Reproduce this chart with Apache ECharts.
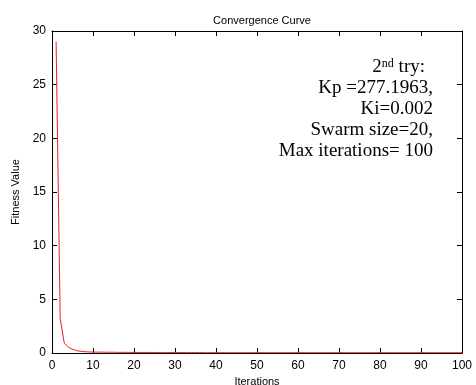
<!DOCTYPE html>
<html><head><meta charset="utf-8">
<script src="https://cdn.jsdelivr.net/npm/echarts@6/dist/echarts.min.js"></script>
<style>html,body{margin:0;padding:0;background:#fff}#c{width:476px;height:385px}</style>
</head><body><div id="c"></div>
<script>
const titleText = "Convergence Curve";
const xName = "Iterations";
const yName = "Fitness Value";
const xTicks = [0,10,20,30,40,50,60,70,80,90,100];
const yTicks = [0,5,10,15,20,25,30];
const fitness = [
 29.0, 3.2, 0.9, 0.55, 0.35, 0.22, 0.16, 0.12, 0.10, 0.09,
 0.08, 0.08, 0.07, 0.07, 0.07, 0.06, 0.06, 0.06, 0.06, 0.05,
 0.05, 0.05, 0.05, 0.05, 0.05, 0.04, 0.04, 0.04, 0.04, 0.04,
 0.04, 0.04, 0.04, 0.04, 0.04, 0.04, 0.03, 0.03, 0.03, 0.03,
 0.03, 0.03, 0.03, 0.03, 0.03, 0.03, 0.03, 0.03, 0.03, 0.03,
 0.03, 0.03, 0.03, 0.03, 0.03, 0.03, 0.03, 0.03, 0.03, 0.03,
 0.03, 0.03, 0.03, 0.03, 0.03, 0.03, 0.03, 0.03, 0.03, 0.03,
 0.03, 0.03, 0.03, 0.03, 0.03, 0.03, 0.03, 0.03, 0.03, 0.03,
 0.03, 0.03, 0.03, 0.03, 0.03, 0.03, 0.03, 0.03, 0.03, 0.03,
 0.03, 0.03, 0.03, 0.03, 0.03, 0.03, 0.03, 0.03, 0.03, 0.03
];
const noteLines = ["Kp =277.1963,", "Ki=0.002", "Swarm size=20,", "Max iterations= 100"];

const chart = echarts.init(document.getElementById('c'), null, {renderer:'canvas'});
const pts = fitness.map((v,i)=>[i+1, v]);
const lbl = {color:'#000', fontFamily:'Liberation Sans', fontSize:12};
const axLine = {show:true, lineStyle:{color:'#000', width:1}};
const axLine2 = {show:true, onZero:false, lineStyle:{color:'#000', width:1}};
const tick = {show:true, inside:false, length:-5, lineStyle:{color:'#000', width:1}};
const X = {min:xTicks[0], max:xTicks[xTicks.length-1], interval:xTicks[1]-xTicks[0]};
const Y = {min:yTicks[0], max:yTicks[yTicks.length-1], interval:yTicks[1]-yTicks[0]};
const serif = {fontFamily:'Liberation Serif', fontSize:19, fill:'#000', align:'right', verticalAlign:'middle'};
const graphics = [{
  type:'text', x:425, y:67, z:10,
  style:{
    text:'{b|2}{s|nd}{b| try:}',
    align:'right', verticalAlign:'middle',
    rich:{
      b:{fontFamily:'Liberation Serif', fontSize:19, color:'#000'},
      s:{fontFamily:'Liberation Serif', fontSize:12, color:'#000', verticalAlign:'top'}
    }
  }
}];
const noteY = [88, 109, 130, 151];
noteLines.forEach((l,i)=>{
  graphics.push({type:'text', x:433, y:noteY[i], z:10, style:Object.assign({text:l}, serif)});
});
chart.setOption({
  animation:false,
  backgroundColor:'#fff',
  title:{text:titleText, left:257, top:10, textAlign:'center',
    textStyle:{fontFamily:'Liberation Sans', fontSize:11, fontWeight:'normal', color:'#000'}},
  grid:{left:52, right:14, top:31, bottom:32, outerBoundsMode:'none', containLabel:false},
  xAxis:[
    Object.assign({type:'value', position:'bottom', name:xName, nameLocation:'middle', nameGap:20,
      nameTextStyle:{color:'#000', fontFamily:'Liberation Sans', fontSize:11}, axisLine:axLine,
      axisTick:tick, axisLabel:Object.assign({margin:7},lbl),
      splitLine:{show:false}}, X),
    Object.assign({type:'value', position:'top', axisLine:axLine2, axisTick:tick,
      axisLabel:{show:false}, splitLine:{show:false}}, X)
  ],
  yAxis:[
    Object.assign({type:'value', position:'left', name:yName, nameLocation:'middle', nameGap:27,
      nameTextStyle:{color:'#000', fontFamily:'Liberation Sans', fontSize:11}, axisLine:axLine, axisTick:tick, axisLabel:Object.assign({margin:6},lbl),
      splitLine:{show:false}}, Y),
    Object.assign({type:'value', position:'right', axisLine:axLine2, axisTick:tick,
      axisLabel:{show:false}, splitLine:{show:false}}, Y)
  ],
  series:[{type:'line', data:pts, xAxisIndex:0, yAxisIndex:0, showSymbol:false,
    lineStyle:{color:'#ee1c25', width:1}, z:5}],
  graphic:graphics
});
</script></body></html>
